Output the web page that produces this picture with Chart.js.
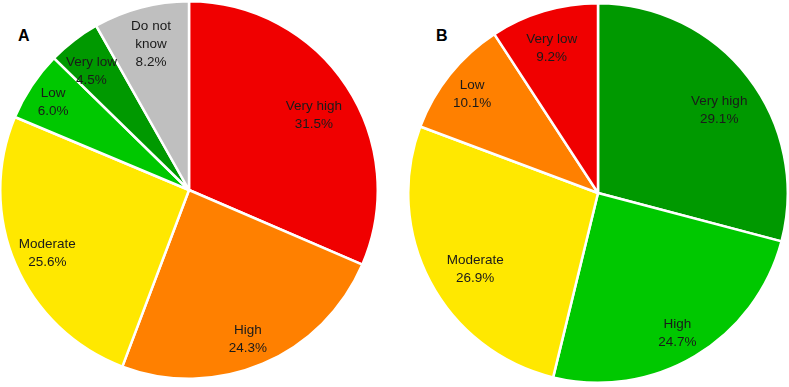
<!DOCTYPE html>
<html><head><meta charset="utf-8">
<script src="https://cdn.jsdelivr.net/npm/chart.js@4/dist/chart.umd.min.js"></script>
<style>
html,body{margin:0;padding:0;background:#fff;width:789px;height:387px;overflow:hidden;}
.wrap{position:absolute;}
.tag{position:absolute;font:bold 16px "Liberation Sans",Arial,sans-serif;color:#000;}
</style></head><body>
<div class="tag" style="left:18px;top:27px;">A</div>
<div class="tag" style="left:436px;top:27px;">B</div>
<div class="wrap" style="left:-1px;top:0px;width:380px;height:380px;"><canvas id="a"></canvas></div>
<div class="wrap" style="left:407px;top:2px;width:382px;height:382px;"><canvas id="b"></canvas></div>
<script>
const labelsA = ["Very high","High","Moderate","Low","Very low","Do not\nknow"];
const valuesA = [31.5,24.3,25.6,6.0,4.5,8.2];
const colorsA = ["#F00000","#FF8000","#FFE800","#00C800","#009900","#BFBFBF"];
const labelPosA = [0.78,0.88,0.84,0.87,0.83,0.77];
const labelShiftA = [[2,6],[-6,-4],[4,1],[1,3],[-2,5],[-1,-5]];

const labelsB = ["Very high","High","Moderate","Low","Very low"];
const valuesB = [29.1,24.7,26.9,10.1,9.2];
const colorsB = ["#009900","#00C800","#FFE800","#FF8000","#F00000"];
const labelPosB = [0.82,0.93,0.81,0.85,0.82];
const labelShiftB = [[-2,12],[-11,-11],[13,4],[0,2],[-2,4]];

const labelPlugin = {
  id:'sliceLabels',
  afterDatasetsDraw(chart){
    const ctx = chart.ctx;
    const meta = chart.getDatasetMeta(0);
    const ds = chart.data.datasets[0];
    const o = chart.options.plugins.sliceLabels;
    ctx.save();
    ctx.font = '13.5px "Liberation Sans", Arial, sans-serif';
    ctx.fillStyle = '#1a1a1a';
    ctx.textAlign = 'center';
    ctx.textBaseline = 'middle';
    meta.data.forEach((arc,i)=>{
      const p = arc.getProps(['x','y','startAngle','endAngle','outerRadius'],true);
      const mid = (p.startAngle+p.endAngle)/2;
      const r = p.outerRadius*o.pos[i];
      const cx = p.x + Math.cos(mid)*r + o.shift[i][0], cy = p.y + Math.sin(mid)*r + o.shift[i][1];
      const lines = chart.data.labels[i].split('\n');
      lines.push(ds.data[i].toFixed(1)+'%');
      const lh = 18;
      const y0 = cy - (lines.length-1)*lh/2;
      lines.forEach((t,k)=>ctx.fillText(t,cx,y0+k*lh));
    });
    ctx.restore();
  }
};

function make(id, labels, values, colors, pos, shift){
  new Chart(document.getElementById(id),{
    type:'pie',
    data:{labels:labels,datasets:[{data:values,backgroundColor:colors,borderColor:'#ffffff',borderWidth:2.5}]},
    options:{responsive:true,maintainAspectRatio:false,animation:false,
      layout:{padding:0},
      plugins:{legend:{display:false},tooltip:{enabled:false},sliceLabels:{pos:pos,shift:shift}}},
    plugins:[labelPlugin]
  });
}
make('a',labelsA,valuesA,colorsA,labelPosA,labelShiftA);
make('b',labelsB,valuesB,colorsB,labelPosB,labelShiftB);
</script>
</body></html>
